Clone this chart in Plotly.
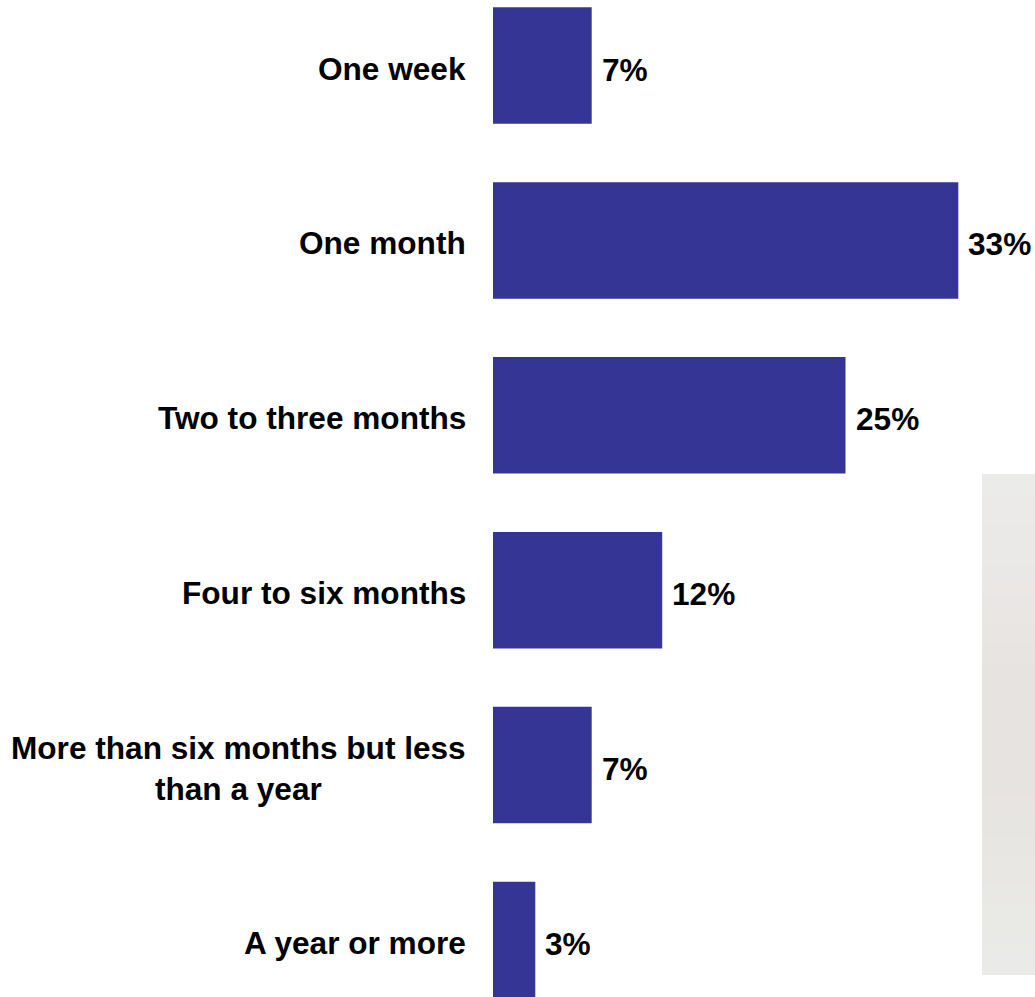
import plotly.graph_objects as go

# Survey answers: how long the period lasted, share of respondents (%)
categories = [
    "One week",
    "One month",
    "Two to three months",
    "Four to six months",
    "More than six months but less<br>than a year",
    "A year or more",
]
shares = [7, 33, 25, 12, 7, 3]

BAR_COLOR = "#353596"
FONT = dict(family="Liberation Sans, Arial, sans-serif", size=31.6, color="#000000", weight="bold")

fig = go.Figure()
fig.add_trace(
    go.Bar(
        x=shares,
        y=categories,
        orientation="h",
        marker=dict(color=BAR_COLOR, line=dict(width=0)),
        hoverinfo="skip",
    )
)

# Category names, right-aligned against the bars, centred when wrapped
for cat in categories:
    fig.add_annotation(
        xref="paper", x=0, yref="y", y=cat,
        text=cat, showarrow=False,
        xanchor="right", yanchor="middle", align="center",
        xshift=-25, yshift=-3, font=FONT,
    )

# Percentage labels just past the end of each bar
for cat, v in zip(categories, shares):
    fig.add_annotation(
        xref="x", x=v, yref="y", y=cat,
        text=f"{v}%", showarrow=False,
        xanchor="left", yanchor="middle",
        xshift=8, yshift=-4, font=FONT,
    )

# Soft grey panel on the right edge, shaded top to bottom
def _mix(c0, c1, t):
    a = [int(c0[i:i + 2], 16) for i in (1, 3, 5)]
    b = [int(c1[i:i + 2], 16) for i in (1, 3, 5)]
    return "#" + "".join(f"{round(x + (y - x) * t):02x}" for x, y in zip(a, b))

panel_stops = ["#ebebea", "#eae8e6", "#e7e3e1", "#e6e3e0", "#e8e7e4", "#eaebe8"]
top, bottom, h = 474, 975, 997
n_bands = 50
step = (bottom - top) / n_bands
for i in range(n_bands):
    pos = i / (n_bands - 1) * (len(panel_stops) - 1)
    k = min(int(pos), len(panel_stops) - 2)
    color = _mix(panel_stops[k], panel_stops[k + 1], pos - k)
    y0 = top + i * step
    y1 = top + (i + 1) * step + 0.6
    fig.add_shape(
        type="rect", xref="paper", yref="paper",
        x0=(982 - 493) / (1035 - 493), x1=1,
        y0=1 - min(y1, bottom) / h, y1=1 - y0 / h,
        fillcolor=color, line=dict(width=0), layer="below",
    )

fig.update_layout(
    width=1035,
    height=997,
    margin=dict(l=493, r=0, t=0, b=0),
    paper_bgcolor="#ffffff",
    plot_bgcolor="rgba(0,0,0,0)",
    bargap=0.334,
    showlegend=False,
    xaxis=dict(
        range=[0, 542 / 14.1],
        visible=False,
        showgrid=False,
        zeroline=False,
        fixedrange=True,
    ),
    yaxis=dict(
        type="category",
        range=[5.326, -0.3745],
        showticklabels=False,
        showgrid=False,
        zeroline=False,
        showline=False,
        ticks="",
        fixedrange=True,
    ),
)

fig.write_html("out.html")
